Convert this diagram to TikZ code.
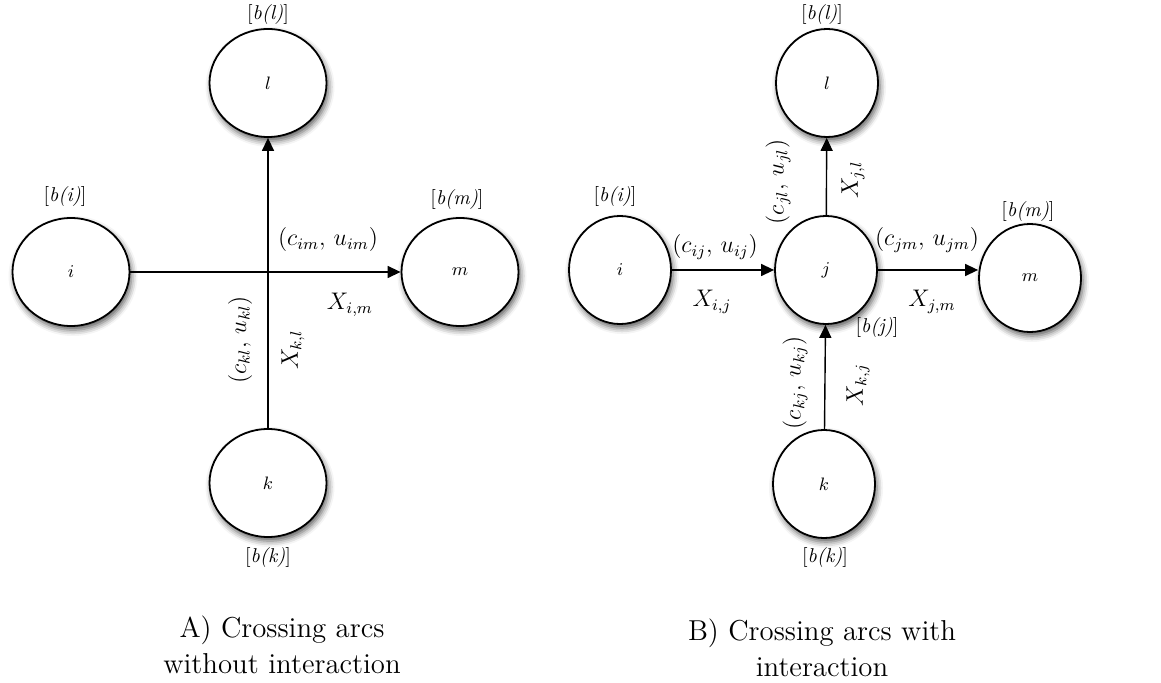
\documentclass[tikz,border=0pt]{standalone}
\usepackage{amsmath}
\usepackage{amssymb}
\usepackage{tikz}
\usetikzlibrary{shapes.geometric,arrows.meta,shadows.blur}
\tikzstyle{nodeA} = [draw=black, fill=white, line width=0.9pt, ellipse,
    minimum width=58.5pt, minimum height=54pt, inner sep=0pt, font=\small,
    blur shadow={shadow xshift=1pt, shadow yshift=-2pt, shadow blur radius=3pt, shadow opacity=65}]
\tikzstyle{nodeB} = [nodeA, minimum width=51pt]
\tikzstyle{balance} = [font=\normalsize, inner sep=1pt]
\tikzstyle{arcline} = [line width=0.7pt, -{Triangle[length=6.5pt,width=6pt]}]
\tikzstyle{flowlabel} = [font=\large, inner sep=1pt]
\tikzstyle{figtitle} = [font=\Large, align=center]

\begin{document}
\begin{tikzpicture}[x=0.5pt, y=-0.5pt]
    \useasboundingbox (0,0) rectangle (1161,683);

    % A) crossing arcs without interaction
    \node [nodeA] (ai) at (71,272) {$i$};
    \node [nodeA] (al) at (268,83) {$l$};
    \node [nodeA] (am) at (460,272) {$m$};
    \node [nodeA] (ak) at (268,483) {$k$};
    \node [balance] (bai) at (65,197) {[\textit{b(i)}]};
    \node [balance] (bal) at (268,15) {[\textit{b(l)}]};
    \node [balance] (bam) at (457,200) {[\textit{b(m)}]};
    \node [balance] (bak) at (268,557) {[\textit{b(k)}]};
    \draw [arcline] (ai) -- (am);
    \draw [arcline] (ak) -- (al);
    \node [flowlabel] (cim) at (328,240) {$(c_{im},\, u_{im})$};
    \node [flowlabel] (xim) at (350,305) {$X_{i,m}$};
    \node [flowlabel, rotate=90] (ckl) at (240,340) {$(c_{kl},\, u_{kl})$};
    \node [flowlabel, rotate=90] (xkl) at (293,350) {$X_{k,l}$};
    \node [figtitle] (ta) at (282,645) {A) Crossing arcs\\without interaction};

    % B) crossing arcs with interaction
    \node [nodeB] (bi) at (620,270) {$i$};
    \node [nodeB] (bj) at (826,270) {$j$};
    \node [nodeB] (bl) at (827,83) {$l$};
    \node [nodeB] (bm) at (1030,278) {$m$};
    \node [nodeB] (bk) at (824,484) {$k$};
    \node [balance] (bbi) at (615,197) {[\textit{b(i)}]};
    \node [balance] (bbl) at (822,15) {[\textit{b(l)}]};
    \node [balance] (bbm) at (1028,212) {[\textit{b(m)}]};
    \node [balance] (bbj) at (877,328) {[\textit{b(j)}]};
    \node [balance] (bbk) at (825,557) {[\textit{b(k)}]};
    \draw [arcline] (bi) -- (bj);
    \draw [arcline] (bj.east) -- (bj.east -| bm.west);
    \draw [arcline] (bj) -- (bl);
    \draw [arcline] (bk) -- (bj);
    \node [flowlabel] (cij) at (715,247) {$(c_{ij},\, u_{ij})$};
    \node [flowlabel] (xij) at (712,302) {$X_{i,j}$};
    \node [flowlabel] (cjm) at (927,240) {$(c_{jm},\, u_{jm})$};
    \node [flowlabel] (xjm) at (932,302) {$X_{j,m}$};
    \node [flowlabel, rotate=90] (cjl) at (778,182) {$(c_{jl},\, u_{jl})$};
    \node [flowlabel, rotate=90] (xjl) at (853,180) {$X_{j,l}$};
    \node [flowlabel, rotate=90] (ckj) at (795,383) {$(c_{kj},\, u_{kj})$};
    \node [flowlabel, rotate=90] (xkj) at (858,385) {$X_{k,j}$};
    \node [figtitle] (tb) at (822,648) {B) Crossing arcs with\\interaction};
\end{tikzpicture}
\end{document}
